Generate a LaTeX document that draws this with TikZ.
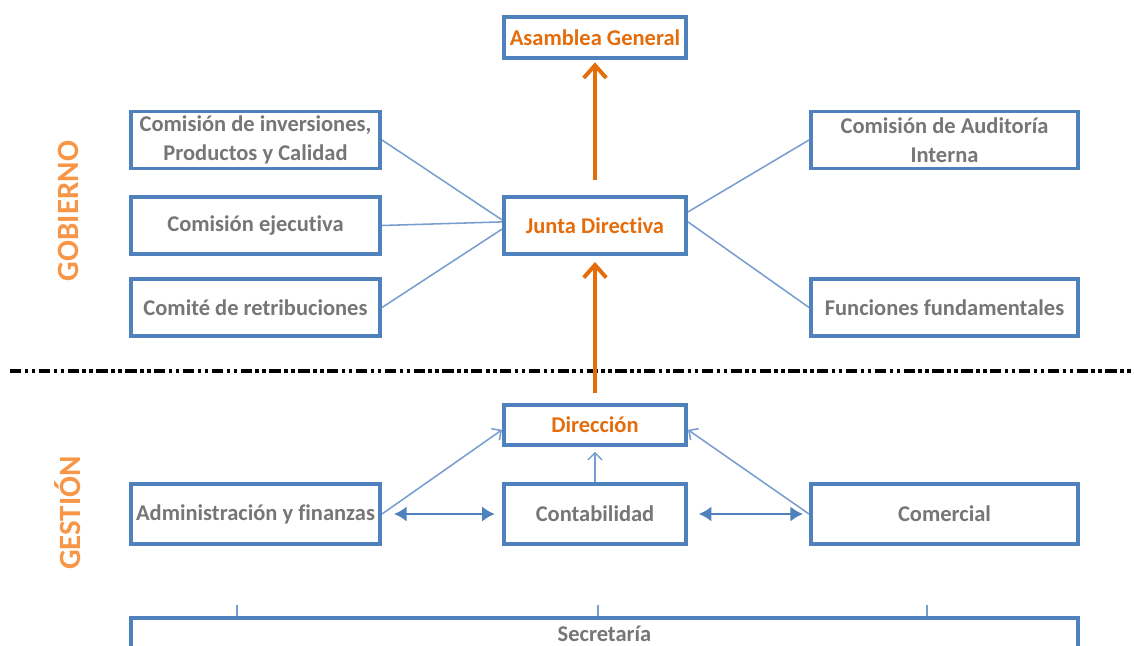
\documentclass[tikz,border=0pt]{standalone}
\usepackage{fontspec}
\setmainfont[Ligatures=NoCommon]{Carlito}
\usepackage{xcolor}
\usepackage{tikz}
\usetikzlibrary{arrows.meta,shapes}
\usetikzlibrary{calc}
\definecolor{boxblue}{RGB}{79,129,189}
\definecolor{lineblue}{RGB}{120,158,208}
\definecolor{txtgray}{RGB}{118,118,118}
\definecolor{darkorange}{RGB}{228,108,10}
\definecolor{lightorange}{RGB}{247,150,70}
\tikzstyle{unit}=[rectangle,draw=boxblue,line width=2.8pt,fill=white,inner sep=0pt,align=center,text=txtgray,font=\fontsize{16}{20.5}\selectfont\bfseries]
\tikzstyle{sideunit}=[unit,minimum width=6.225cm,minimum height=1.425cm]
\tikzstyle{rightunit}=[unit,minimum width=6.675cm,minimum height=1.425cm]
\tikzstyle{midunit}=[unit,minimum width=4.55cm,minimum height=1.425cm]
\tikzstyle{thinline} = [draw,line width=1.1pt,lineblue]
\tikzstyle{thinarrow} = [draw,line width=1.1pt,lineblue,-{Straight Barb[length=5pt,width=10pt]}]
\tikzstyle{twoway} = [draw,line width=2pt,boxblue,{Latex[length=9pt,width=11pt]}-{Latex[length=9pt,width=11pt]}]
\tikzstyle{uparrow} = [draw,line width=2.8pt,darkorange,-{Straight Barb[length=9pt,width=16pt]}]
\tikzstyle{level} = [rotate=90,text=lightorange,font=\fontsize{22}{26}\selectfont\bfseries]
\tikzset{divider/.style={line width=2.4pt,dash pattern=on 8pt off 2.5pt on 2.5pt off 2.5pt on 2.5pt off 2.5pt}}

\begin{document}
\begin{tikzpicture}[x=0.025cm,y=-0.025cm]
 \useasboundingbox (0,0) rectangle (1134,646);

 %Gobierno
 \node[level] (gob) at (68,211) {GOBIERNO};
 \node[level] (ges) at (68,513) {GESTIÓN};

 \node[unit,text=darkorange,minimum width=4.55cm,minimum height=1.025cm] (asam) at (595,37.5) {Asamblea General};
 \node[midunit,text=darkorange] (junta) at (595,225.5) {Junta Directiva};

   \foreach \x/\y/\name/\label in {255.5/140/inv/{Comisión de inversiones,\\Productos y Calidad}, 255.5/225.5/eje/Comisión ejecutiva, 255.5/307.5/ret/Comité de retribuciones}
          \node[sideunit] (\name) at (\x,\y) {\label};

   \foreach \x/\y/\name/\label in {944.5/140/aud/{Comisión de Auditoría\\Interna}, 944.5/307.5/fun/Funciones fundamentales}
          \node[rightunit] (\name) at (\x,\y) {\label};

  \foreach \source/\shift in {inv/0.14, eje/0.09, ret/-0.09}
         \path[thinline] (\source.east) -- ([yshift=\shift cm]junta.west);

  \foreach \dest/\shift in {aud/0.34, fun/0.09}
         \path[thinline] ([yshift=\shift cm]junta.east) -- (\dest.west);

 \path[uparrow, shorten <=0.375cm, shorten >=0.06cm] (junta.north) -- (asam.south);

 %Divisoria
 \coordinate (d1) at (10,371);
 \coordinate (d2) at (1134,371);
 \draw[divider] (d1) -- (d2);

 %Gestion
 \node[unit,text=darkorange,minimum width=4.55cm,minimum height=1.0cm] (dir) at (595,425) {Dirección};

 \node[sideunit,minimum height=1.5cm] (adm) at (255.5,514) {Administración y finanzas};
 \node[midunit,minimum height=1.5cm] (conta) at (595,514) {Contabilidad};
 \node[rightunit,minimum height=1.5cm] (com) at (944.5,514) {Comercial};

 \path[uparrow, shorten <=0.25cm, shorten >=0.15cm] (dir.north) -- (junta.south);

 \path[thinarrow] (adm.east) -- ([yshift=-0.12cm]dir.west);
 \path[thinarrow] (com.west) -- ([yshift=-0.12cm]dir.east);
 \path[thinarrow, shorten >=0.12cm] (conta.north) -- (dir.south);

 \path[twoway, shorten <=0.3cm, shorten >=0.18cm] (adm.east) -- (conta.west);
 \path[twoway, shorten <=0.27cm, shorten >=0.15cm] (conta.east) -- (com.west);

 %Secretaria
 \node[unit,minimum width=23.675cm,minimum height=0.8cm] (sec) at (604.5,634) {Secretaría};

   \foreach \x/\name in {237/t1, 598/t2, 927/t3}
          \coordinate (\name) at (\x,605);
  \foreach \name in {t1,t2,t3}
         \path[thinline] (\name) -- (\name |- sec.north);

\end{tikzpicture}
\end{document}
